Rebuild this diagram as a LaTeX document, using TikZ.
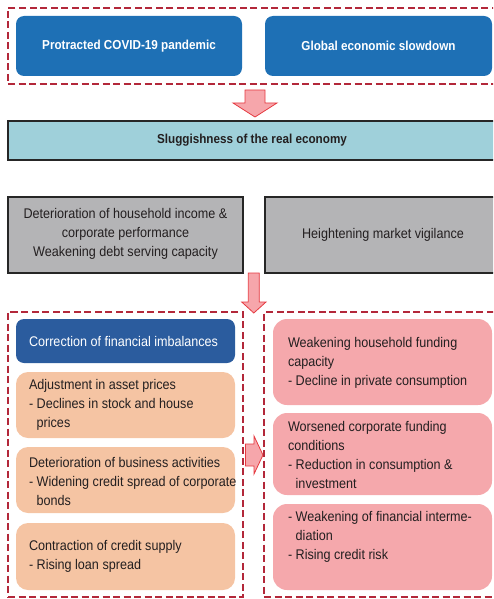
\documentclass[tikz,border=0pt]{standalone}
\usepackage{fontspec}
\setmainfont{Liberation Sans}[FakeStretch=0.9]
\definecolor{topblue}{HTML}{1E70B5}
\definecolor{corrblue}{HTML}{2B5C9E}
\definecolor{orangefill}{HTML}{F5C4A3}
\definecolor{pinkfill}{HTML}{F5A8AC}
\definecolor{grayfill}{HTML}{B4B4B6}
\definecolor{lbfill}{HTML}{9FD0DA}
\definecolor{dred}{HTML}{B3283A}
\definecolor{arrfill}{HTML}{F6A6AB}
\definecolor{arrline}{HTML}{E53A40}
\definecolor{txt}{HTML}{231F20}
\newcommand\hind{\hphantom{-\ }}
\tikzset{
  x=1pt, y=-1pt,
  every node/.style={inner sep=0pt, outer sep=0pt},
  boxbase/.style={anchor=north west},
  dashbox/.style={boxbase, draw=dred, line width=1.8pt, dash pattern=on 7pt off 3.5pt},
  topbox/.style={boxbase, fill=topblue, rounded corners=8pt},
  corrbox/.style={boxbase, fill=corrblue, rounded corners=8pt},
  orbox/.style={boxbase, fill=orangefill, rounded corners=12pt},
  pkbox/.style={boxbase, fill=pinkfill, rounded corners=14pt},
  graybox/.style={boxbase, fill=grayfill, draw=black!85, line width=1.8pt},
  lbbox/.style={boxbase, fill=lbfill, draw=black!85, line width=1.8pt},
  bodytext/.style={font=\fontsize{14}{19}\selectfont, text=txt, align=left},
  headtext/.style={font=\fontsize{13}{19}\selectfont\bfseries, text=white, align=center},
  blockarrow/.style={fill=arrfill, draw=arrline, line width=0.8pt, line join=miter},
}
\begin{document}
\begin{tikzpicture}
\useasboundingbox (0,0) rectangle (493,599);
\clip (0,0) rectangle (493,599);
% top group
\node[dashbox, minimum width=496pt, minimum height=76pt] (topgroup) at (8,8) {};
\node[topbox, minimum width=226pt, minimum height=60pt] (covid) at (16,16) {};
\node[topbox, minimum width=227pt, minimum height=60pt] (global) at (265,16) {};
\node[headtext] (covidt) at (covid.center) {Protracted COVID-19 pandemic};
\node[headtext] (globalt) at (global.center) {Global economic slowdown};
% arrow 1
\draw[blockarrow] (245,90) -- (265,90) -- (265,103) -- (277,103) -- (255,117) -- (233,103) -- (245,103) -- cycle;
% sluggishness
\node[lbbox, minimum width=489pt, minimum height=39pt] (slug) at (8,121) {};
\node[font=\fontsize{13}{19}\selectfont\bfseries, text=txt] (slugt) at (252,140.5) {Sluggishness of the real economy};
% gray boxes
\node[graybox, minimum width=235pt, minimum height=76pt] (hh) at (8,197) {};
\node[graybox, minimum width=235pt, minimum height=76pt] (mkt) at (265,197) {};
\node[bodytext, align=center] (hht) at (125.5,234) {Deterioration of household income \&\\corporate performance\\Weakening debt serving capacity};
\node[bodytext] (mktt) at (383,235) {Heightening market vigilance};
% arrow 2
\draw[blockarrow] (248.3,273) -- (259.3,273) -- (259.3,302) -- (266,302) -- (253.8,313) -- (241.7,302) -- (248.3,302) -- cycle;
% left group
\node[dashbox, minimum width=235pt, minimum height=285pt] (leftgroup) at (8,312) {};
\node[corrbox, minimum width=219pt, minimum height=44pt] (corr) at (16,319) {};
\node[orbox, minimum width=219pt, minimum height=66pt] (asset) at (16,372) {};
\node[orbox, minimum width=219pt, minimum height=66pt] (busi) at (16,447) {};
\node[orbox, minimum width=219pt, minimum height=67pt] (credit) at (16,523) {};
\node[bodytext, text=white, anchor=west] (corrt) at (29,341) {Correction of financial imbalances};
\node[bodytext, anchor=west] (assett) at (29,405) {Adjustment in asset prices\\- Declines in stock and house\\\hind prices};
\node[bodytext, anchor=west] (busit) at (29,481) {Deterioration of business activities\\- Widening credit spread of corporate\\\hind bonds};
\node[bodytext, anchor=west] (creditt) at (29,556) {Contraction of credit supply\\- Rising loan spread};
% arrow 3
\draw[blockarrow] (245.5,444) -- (254,444) -- (254,436) -- (263,455) -- (254,474) -- (254,466) -- (245.5,466) -- cycle;
% right group
\node[dashbox, minimum width=240pt, minimum height=285pt] (rightgroup) at (264,312) {};
\node[pkbox, minimum width=219pt, minimum height=86pt] (hhf) at (273,319) {};
\node[pkbox, minimum width=219pt, minimum height=82pt] (corpf) at (273,413) {};
\node[pkbox, minimum width=219pt, minimum height=86pt] (fin) at (273,504) {};
\node[bodytext, anchor=west] (hhft) at (288,363) {Weakening household funding\\capacity\\- Decline in private consumption};
\node[bodytext, anchor=west] (corpft) at (288,455) {Worsened corporate funding\\conditions\\- Reduction in consumption \&\\\hind investment};
\node[bodytext, anchor=north west] (fint) at (288,511.5) {- Weakening of financial interme-\\\hind diation\\- Rising credit risk};
\end{tikzpicture}
\end{document}
